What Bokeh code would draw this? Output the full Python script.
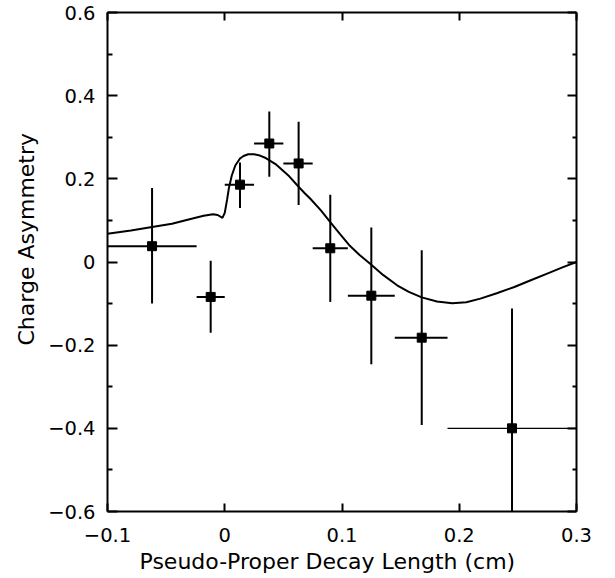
from bokeh.plotting import figure
from bokeh.models import Range1d, FixedTicker, LinearAxis, CustomJSTickFormatter, ColumnDataSource, Title
from bokeh.embed import file_html
from bokeh.resources import INLINE

# ---- data ----
x_ticks = [-0.1, 0.0, 0.1, 0.2, 0.3]
x_tick_labels = ["\u22120.1", "0", "0.1", "0.2", "0.3"]
y_ticks = [-0.6, -0.4, -0.2, 0.0, 0.2, 0.4, 0.6]
y_tick_labels = ["\u22120.6", "\u22120.4", "\u22120.2", "0", "0.2", "0.4", "0.6"]
y_minor = [-0.5, -0.3, -0.1, 0.1, 0.3, 0.5]

pt_x = [-0.062, -0.012, 0.013, 0.038, 0.063, 0.090, 0.125, 0.168, 0.245]
pt_y = [0.038, -0.084, 0.186, 0.285, 0.237, 0.033, -0.081, -0.182, -0.400]
pt_xlo = [-0.100, -0.024, 0.000, 0.025, 0.050, 0.075, 0.105, 0.145, 0.190]
pt_xhi = [-0.024, 0.000, 0.025, 0.050, 0.075, 0.105, 0.145, 0.190, 0.300]
pt_ylo = [-0.100, -0.170, 0.130, 0.205, 0.137, -0.096, -0.246, -0.392, -0.690]
pt_yhi = [0.178, 0.003, 0.239, 0.362, 0.337, 0.162, 0.083, 0.028, -0.112]

curve_x = [-0.100, -0.080, -0.062, -0.045, -0.030, -0.018, -0.010, -0.006, -0.002,
           0.000, 0.002, 0.0035, 0.006, 0.009, 0.013, 0.016, 0.020, 0.025, 0.030,
           0.035, 0.044, 0.055, 0.062, 0.068, 0.073, 0.082, 0.090, 0.098, 0.106,
           0.115, 0.124, 0.135, 0.147, 0.157, 0.168, 0.181, 0.194, 0.206, 0.218,
           0.232, 0.247, 0.261, 0.275, 0.288, 0.300]
curve_y = [0.068, 0.076, 0.084, 0.092, 0.103, 0.111, 0.115, 0.113, 0.106,
           0.118, 0.150, 0.177, 0.208, 0.232, 0.249, 0.255, 0.259, 0.259, 0.256,
           0.250, 0.234, 0.206, 0.184, 0.166, 0.152, 0.124, 0.096, 0.068, 0.041,
           0.017, -0.004, -0.031, -0.056, -0.072, -0.085, -0.095, -0.099, -0.097, -0.088,
           -0.075, -0.060, -0.044, -0.028, -0.013, 0.000]

x_title = "Pseudo-Proper Decay Length (cm)"
y_title = "Charge Asymmetry"

FONT = "DejaVu Sans"

p = figure(frame_width=469, frame_height=499,
           x_range=Range1d(-0.1, 0.3), y_range=Range1d(-0.6, 0.6),
           output_backend="svg", toolbar_location=None,
           min_border_left=107, min_border_right=25,
           min_border_top=12, min_border_bottom=10)
p.outline_line_color = None
p.grid.visible = False
p.background_fill_color = "white"
p.border_fill_color = "white"

code = "const i = tv.findIndex(t => Math.abs(t - tick) < 1e-9); return i >= 0 ? lv[i] : '';"
xfmt = CustomJSTickFormatter(args=dict(tv=x_ticks, lv=x_tick_labels), code=code)
yfmt = CustomJSTickFormatter(args=dict(tv=y_ticks, lv=y_tick_labels), code=code)

def style(ax, ticks, minor, fmt, major_len, minor_len):
    ax.ticker = FixedTicker(ticks=ticks, minor_ticks=minor)
    ax.formatter = fmt
    ax.axis_line_width = 2
    ax.axis_line_color = "black"
    ax.major_tick_line_width = 2
    ax.minor_tick_line_width = 2
    ax.major_tick_line_color = "black"
    ax.minor_tick_line_color = "black"
    ax.major_tick_in = major_len
    ax.major_tick_out = 0
    ax.minor_tick_in = minor_len
    ax.minor_tick_out = 0
    ax.major_label_text_font = FONT
    ax.major_label_text_font_size = "19.5px"
    ax.major_label_text_color = "black"

xa = p.xaxis[0]
ya = p.yaxis[0]
style(xa, x_ticks, [], xfmt, 8, 0)
style(ya, y_ticks, y_minor, yfmt, 10, 5)
xa.major_label_standoff = 16
ya.major_label_standoff = 12

xt = LinearAxis()
style(xt, x_ticks, [], CustomJSTickFormatter(code="return '';"), 8, 0)
xt.major_label_standoff = 0
p.add_layout(xt, "above")
yr = LinearAxis()
style(yr, y_ticks, y_minor, CustomJSTickFormatter(code="return '';"), 9, 4)
yr.major_label_standoff = 0
p.add_layout(yr, "right")

# axis titles (placed as side titles so they can be offset like the reference)
xt_title = Title(text=x_title, align="left", offset=32, standoff=4,
                 text_font=FONT, text_font_size="22px", text_font_style="normal",
                 text_color="black")
p.add_layout(xt_title, "below")
yl_title = Title(text=y_title, align="left", offset=166, standoff=14,
                 text_font=FONT, text_font_size="22px", text_font_style="normal",
                 text_color="black")
p.add_layout(yl_title, "left")

# fitted curve
p.line(curve_x, curve_y, line_color="black", line_width=2)

# error bars
src = ColumnDataSource(dict(x=pt_x, y=pt_y, xlo=pt_xlo, xhi=pt_xhi, ylo=pt_ylo, yhi=pt_yhi))
p.segment(x0="x", y0="ylo", x1="x", y1="yhi", source=src, line_color="black", line_width=2)
n = len(pt_x)
src_h_main = ColumnDataSource(dict(y=pt_y[:n - 1], xlo=pt_xlo[:n - 1], xhi=pt_xhi[:n - 1]))
src_h_last = ColumnDataSource(dict(y=pt_y[n - 1:], xlo=pt_xlo[n - 1:], xhi=pt_xhi[n - 1:]))
p.segment(x0="xlo", y0="y", x1="xhi", y1="y", source=src_h_main, line_color="black", line_width=2)
p.segment(x0="xlo", y0="y", x1="xhi", y1="y", source=src_h_last, line_color="black", line_width=1.3)
p.scatter(x="x", y="y", source=src, marker="square", size=9, fill_color="black", line_color="black")

open("out.html", "w").write(file_html(p, INLINE))
